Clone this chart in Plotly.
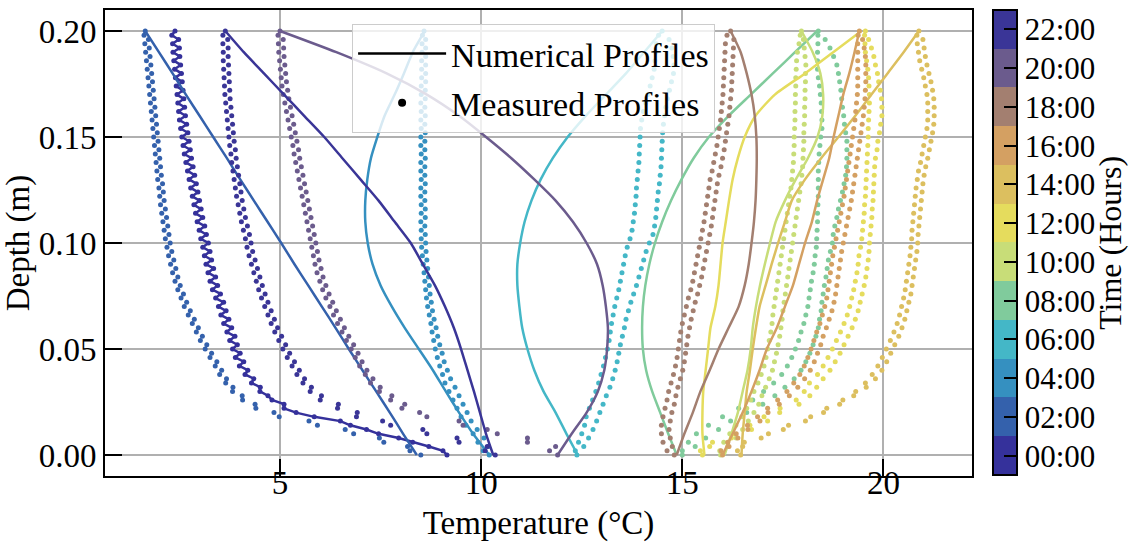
import plotly.graph_objects as go

# Sensor depths (m) of the measured profiles (2 mm spacing).
DEPTH_M = [0.000, 0.002, 0.004, 0.006, 0.008, 0.010, 0.012, 0.014, 0.016, 0.018, 0.020,
           0.022, 0.024, 0.026, 0.028, 0.030, 0.032, 0.034, 0.036, 0.038, 0.040,
           0.042, 0.044, 0.046, 0.048, 0.050, 0.052, 0.054, 0.056, 0.058, 0.060,
           0.062, 0.064, 0.066, 0.068, 0.070, 0.072, 0.074, 0.076, 0.078, 0.080,
           0.082, 0.084, 0.086, 0.088, 0.090, 0.092, 0.094, 0.096, 0.098, 0.100,
           0.102, 0.104, 0.106, 0.108, 0.110, 0.112, 0.114, 0.116, 0.118, 0.120,
           0.122, 0.124, 0.126, 0.128, 0.130, 0.132, 0.134, 0.136, 0.138, 0.140,
           0.142, 0.144, 0.146, 0.148, 0.150, 0.152, 0.154, 0.156, 0.158, 0.160,
           0.162, 0.164, 0.166, 0.168, 0.170, 0.172, 0.174, 0.176, 0.178, 0.180,
           0.182, 0.184, 0.186, 0.188, 0.190, 0.192, 0.194, 0.196, 0.198, 0.200]

# Output depths (m) of the numerical model.
NUM_DEPTH_M = [0.00, 0.01, 0.02, 0.03, 0.04, 0.05, 0.06, 0.07, 0.08, 0.09, 0.10,
               0.11, 0.12, 0.13, 0.14, 0.15, 0.16, 0.17, 0.18, 0.19, 0.20]

TIME_HOURS = [0, 2, 4, 6, 8, 10, 12, 14, 16, 18, 20, 22]
TIME_LABELS = ["00:00", "02:00", "04:00", "06:00", "08:00", "10:00",
               "12:00", "14:00", "16:00", "18:00", "20:00", "22:00"]
PROFILE_COLORS = ["#35319b", "#3461ac", "#3590c0", "#44b7c7", "#80cb9c", "#c8dd78",
                  "#e5dc5d", "#dcbf5f", "#d4a062", "#a37f70", "#6b5b8d", "#3a3597"]

TEMP_TICKS = [5, 10, 15, 20]
DEPTH_TICKS = [0.0, 0.05, 0.10, 0.15, 0.20]

# Measured temperatures (degC) at DEPTH_M
MEASURED_00 = [9.15, 9.05, 8.70, 8.30, 7.95, 7.45, 7.15, 6.75, 6.50, 5.85, 5.40,
               5.10, 5.10, 4.80, 4.70, 4.50, 4.51, 4.29, 4.35, 4.13, 4.20,
               3.99, 4.10, 3.89, 4.01, 3.82, 3.94, 3.75, 3.88, 3.68, 3.80,
               3.60, 3.73, 3.53, 3.66, 3.47, 3.60, 3.40, 3.52, 3.32, 3.45,
               3.26, 3.40, 3.21, 3.35, 3.16, 3.30, 3.12, 3.26, 3.08, 3.22,
               3.03, 3.17, 2.99, 3.13, 2.94, 3.08, 2.90, 3.04, 2.86, 3.00,
               2.82, 2.96, 2.78, 2.92, 2.74, 2.88, 2.70, 2.84, 2.66, 2.80,
               2.62, 2.77, 2.59, 2.74, 2.56, 2.71, 2.53, 2.68, 2.50, 2.65,
               2.48, 2.63, 2.46, 2.61, 2.44, 2.59, 2.42, 2.57, 2.40, 2.55,
               2.38, 2.53, 2.36, 2.51, 2.34, 2.50, 2.33, 2.48, 2.31, 2.39]
MEASURED_02 = [8.50, 8.23, 8.17, 7.58, 7.47, 6.83, 6.62, 5.93, 5.72, 4.98, 4.85,
               4.40, 4.38, 4.07, 4.06, 3.82, 3.83, 3.65, 3.67, 3.50, 3.55,
               3.39, 3.43, 3.26, 3.30, 3.14, 3.18, 3.02, 3.07, 2.92, 2.97,
               2.82, 2.87, 2.72, 2.77, 2.62, 2.68, 2.54, 2.60, 2.46, 2.52,
               2.39, 2.46, 2.33, 2.41, 2.28, 2.36, 2.23, 2.31, 2.19, 2.27,
               2.15, 2.24, 2.12, 2.21, 2.09, 2.18, 2.06, 2.15, 2.03, 2.12,
               2.01, 2.10, 1.99, 2.08, 1.96, 2.05, 1.94, 2.03, 1.92, 2.01,
               1.90, 1.99, 1.88, 1.97, 1.86, 1.95, 1.84, 1.93, 1.82, 1.91,
               1.80, 1.89, 1.78, 1.87, 1.76, 1.85, 1.74, 1.83, 1.72, 1.81,
               1.70, 1.79, 1.68, 1.77, 1.66, 1.75, 1.64, 1.73, 1.62, 1.65]
MEASURED_04 = [10.20, 10.05, 10.18, 9.92, 10.07, 9.80, 9.90, 9.62, 9.75, 9.50, 9.65,
               9.40, 9.55, 9.30, 9.45, 9.20, 9.35, 9.10, 9.24, 9.04, 9.16,
               8.97, 9.08, 8.91, 9.03, 8.86, 8.97, 8.82, 8.92, 8.78, 8.88,
               8.75, 8.83, 8.71, 8.79, 8.67, 8.76, 8.64, 8.73, 8.62, 8.71,
               8.60, 8.69, 8.58, 8.67, 8.56, 8.65, 8.54, 8.63, 8.52, 8.62,
               8.51, 8.61, 8.51, 8.60, 8.50, 8.61, 8.51, 8.61, 8.51, 8.60,
               8.50, 8.60, 8.50, 8.61, 8.51, 8.60, 8.50, 8.60, 8.50, 8.61,
               8.51, 8.60, 8.50, 8.60, 8.50, 8.61, 8.51, 8.60, 8.50, 8.61,
               8.51, 8.60, 8.50, 8.61, 8.51, 8.61, 8.51, 8.62, 8.52, 8.62,
               8.52, 8.62, 8.52, 8.62, 8.53, 8.62, 8.53, 8.62, 8.54, 8.58]
MEASURED_06 = [12.38, 12.34, 12.55, 12.42, 12.67, 12.50, 12.78, 12.57, 12.87, 12.61, 12.95,
               12.69, 13.03, 12.77, 13.11, 12.85, 13.20, 12.92, 13.27, 12.98, 13.33,
               13.04, 13.38, 13.09, 13.42, 13.14, 13.46, 13.18, 13.51, 13.21, 13.56,
               13.24, 13.60, 13.28, 13.66, 13.32, 13.72, 13.37, 13.79, 13.42, 13.86,
               13.46, 13.92, 13.50, 13.98, 13.54, 14.04, 13.58, 14.10, 13.63, 14.18,
               13.70, 14.27, 13.75, 14.31, 13.78, 14.34, 13.81, 14.36, 13.83, 14.38,
               13.85, 14.40, 13.86, 14.43, 13.88, 14.45, 13.90, 14.47, 13.92, 14.48,
               13.93, 14.49, 13.94, 14.50, 13.95, 14.51, 13.96, 14.53, 13.99, 14.56,
               14.03, 14.59, 14.09, 14.63, 14.14, 14.68, 14.20, 14.73, 14.25, 14.78,
               14.30, 14.79, 14.32, 14.77, 14.34, 14.74, 14.35, 14.67, 14.41, 14.50]
MEASURED_08 = [15.00, 15.00, 15.32, 15.15, 15.58, 15.35, 15.90, 15.65, 16.20, 16.00, 16.60,
               16.40, 17.00, 16.75, 17.30, 17.02, 17.55, 17.27, 17.78, 17.47, 17.95,
               17.61, 18.07, 17.72, 18.17, 17.81, 18.25, 17.89, 18.32, 17.95, 18.38,
               18.02, 18.41, 18.07, 18.45, 18.12, 18.47, 18.15, 18.50, 18.18, 18.53,
               18.21, 18.57, 18.25, 18.60, 18.28, 18.63, 18.30, 18.68, 18.33, 18.73,
               18.34, 18.75, 18.35, 18.79, 18.36, 18.84, 18.36, 18.88, 18.37, 18.93,
               18.38, 18.98, 18.38, 19.02, 18.38, 19.06, 18.38, 19.08, 18.39, 19.09,
               18.40, 19.09, 18.42, 19.09, 18.44, 19.06, 18.47, 19.03, 18.47, 19.01,
               18.46, 18.98, 18.45, 18.96, 18.43, 18.94, 18.41, 18.91, 18.38, 18.88,
               18.36, 18.84, 18.36, 18.76, 18.36, 18.67, 18.37, 18.55, 18.37, 18.38]
MEASURED_10 = [15.95, 15.93, 16.13, 16.03, 16.34, 16.18, 16.50, 16.33, 16.64, 16.48, 16.78,
               16.60, 16.90, 16.70, 16.98, 16.78, 17.07, 16.88, 17.16, 16.96, 17.24,
               17.03, 17.29, 17.08, 17.34, 17.12, 17.38, 17.16, 17.42, 17.20, 17.45,
               17.23, 17.48, 17.25, 17.50, 17.28, 17.53, 17.31, 17.56, 17.34, 17.59,
               17.37, 17.62, 17.40, 17.65, 17.43, 17.68, 17.46, 17.71, 17.49, 17.74,
               17.52, 17.77, 17.55, 17.80, 17.58, 17.83, 17.61, 17.86, 17.64, 17.89,
               17.67, 17.92, 17.70, 17.95, 17.72, 17.97, 17.74, 17.99, 17.76, 18.00,
               17.77, 18.01, 17.78, 18.02, 17.78, 18.02, 17.79, 18.03, 17.80, 18.04,
               17.80, 18.04, 17.81, 18.05, 17.81, 18.05, 17.82, 18.06, 17.82, 18.06,
               17.83, 18.07, 17.84, 18.05, 17.86, 18.03, 17.90, 18.01, 17.93, 17.96]
MEASURED_12 = [15.50, 15.45, 15.68, 15.75, 16.22, 16.28, 16.72, 16.68, 17.12, 17.03, 17.42,
               17.43, 17.90, 17.83, 18.17, 18.03, 18.34, 18.16, 18.50, 18.36, 18.67,
               18.50, 18.80, 18.62, 18.92, 18.73, 19.02, 18.83, 19.12, 18.93, 19.22,
               19.02, 19.30, 19.10, 19.37, 19.16, 19.42, 19.21, 19.47, 19.26, 19.52,
               19.30, 19.56, 19.34, 19.59, 19.37, 19.62, 19.39, 19.64, 19.43, 19.65,
               19.46, 19.67, 19.48, 19.69, 19.50, 19.71, 19.52, 19.72, 19.53, 19.74,
               19.55, 19.75, 19.56, 19.76, 19.57, 19.77, 19.58, 19.78, 19.59, 19.80,
               19.60, 19.84, 19.61, 19.86, 19.62, 19.90, 19.62, 19.93, 19.63, 19.96,
               19.64, 19.96, 19.65, 19.95, 19.65, 19.92, 19.64, 19.88, 19.63, 19.85,
               19.61, 19.80, 19.58, 19.76, 19.55, 19.70, 19.54, 19.63, 19.53, 19.55]
MEASURED_14 = [16.45, 16.37, 16.50, 16.54, 16.96, 17.14, 17.51, 17.64, 18.06, 18.19, 18.51,
               18.59, 18.91, 18.99, 19.26, 19.31, 19.57, 19.55, 19.80, 19.72, 19.96,
               19.86, 20.08, 19.97, 20.18, 20.07, 20.28, 20.17, 20.38, 20.26, 20.46,
               20.34, 20.53, 20.40, 20.58, 20.45, 20.63, 20.50, 20.68, 20.54, 20.71,
               20.57, 20.74, 20.60, 20.77, 20.63, 20.80, 20.66, 20.83, 20.68, 20.85,
               20.70, 20.86, 20.71, 20.88, 20.73, 20.90, 20.75, 20.92, 20.77, 20.94,
               20.79, 20.96, 20.81, 20.98, 20.84, 21.01, 20.87, 21.05, 20.92, 21.10,
               20.96, 21.14, 21.00, 21.18, 21.04, 21.22, 21.08, 21.25, 21.10, 21.26,
               21.10, 21.26, 21.10, 21.25, 21.08, 21.22, 21.04, 21.18, 21.00, 21.13,
               20.95, 21.08, 20.90, 21.04, 20.87, 21.01, 20.84, 20.98, 20.83, 20.88]
MEASURED_16 = [16.00, 15.96, 16.16, 16.13, 16.38, 16.34, 16.63, 16.62, 16.93, 16.87, 17.13,
               17.12, 17.41, 17.37, 17.66, 17.60, 17.87, 17.77, 18.04, 17.92, 18.18,
               18.03, 18.28, 18.12, 18.36, 18.20, 18.44, 18.27, 18.50, 18.34, 18.58,
               18.42, 18.65, 18.48, 18.72, 18.54, 18.77, 18.59, 18.81, 18.62, 18.84,
               18.65, 18.87, 18.68, 18.90, 18.71, 18.93, 18.74, 18.96, 18.78, 19.00,
               18.82, 19.04, 18.86, 19.08, 18.90, 19.12, 18.94, 19.16, 18.98, 19.20,
               19.02, 19.23, 19.05, 19.26, 19.08, 19.29, 19.11, 19.32, 19.14, 19.35,
               19.17, 19.38, 19.20, 19.41, 19.23, 19.44, 19.26, 19.47, 19.29, 19.50,
               19.31, 19.52, 19.33, 19.54, 19.35, 19.55, 19.36, 19.56, 19.36, 19.56,
               19.36, 19.56, 19.36, 19.55, 19.36, 19.52, 19.36, 19.48, 19.37, 19.40]
MEASURED_18 = [14.80, 14.62, 14.75, 14.52, 14.70, 14.48, 14.67, 14.48, 14.70, 14.52, 14.74,
               14.57, 14.80, 14.62, 14.84, 14.66, 14.89, 14.72, 14.95, 14.78, 15.01,
               14.83, 15.05, 14.87, 15.08, 14.90, 15.11, 14.93, 15.14, 14.96, 15.18,
               15.00, 15.22, 15.05, 15.27, 15.10, 15.32, 15.15, 15.38, 15.21, 15.43,
               15.26, 15.48, 15.30, 15.52, 15.34, 15.56, 15.38, 15.60, 15.42, 15.64,
               15.46, 15.68, 15.50, 15.72, 15.54, 15.75, 15.57, 15.78, 15.60, 15.81,
               15.63, 15.84, 15.66, 15.87, 15.69, 15.91, 15.74, 15.96, 15.78, 16.00,
               15.82, 16.04, 15.86, 16.07, 15.89, 16.10, 15.92, 16.13, 15.95, 16.16,
               15.97, 16.18, 15.99, 16.20, 16.01, 16.22, 16.02, 16.23, 16.03, 16.24,
               16.04, 16.25, 16.05, 16.26, 16.06, 16.27, 16.07, 16.28, 16.11, 16.20]
MEASURED_20 = [11.90, 11.70, 11.85, 11.15, 11.15, 10.40, 10.15, 9.55, 9.45, 8.65, 8.47,
               8.03, 8.10, 7.75, 7.78, 7.47, 7.49, 7.25, 7.31, 7.12, 7.16,
               6.98, 7.04, 6.87, 6.94, 6.77, 6.83, 6.65, 6.71, 6.54, 6.60,
               6.43, 6.50, 6.33, 6.40, 6.24, 6.31, 6.14, 6.22, 6.06, 6.14,
               5.99, 6.07, 5.92, 6.02, 5.87, 5.97, 5.83, 5.93, 5.79, 5.89,
               5.75, 5.85, 5.71, 5.81, 5.67, 5.77, 5.63, 5.73, 5.59, 5.69,
               5.55, 5.65, 5.51, 5.61, 5.47, 5.57, 5.43, 5.53, 5.39, 5.49,
               5.35, 5.46, 5.32, 5.42, 5.28, 5.38, 5.24, 5.34, 5.20, 5.30,
               5.16, 5.26, 5.12, 5.22, 5.08, 5.19, 5.05, 5.16, 5.03, 5.14,
               5.01, 5.12, 4.99, 5.10, 4.97, 5.09, 4.96, 5.08, 4.95, 5.00]
MEASURED_22 = [10.35, 10.10, 10.15, 9.45, 9.40, 8.65, 8.55, 7.75, 7.55, 6.90, 6.92,
               6.43, 6.45, 6.00, 6.03, 5.75, 5.78, 5.57, 5.61, 5.42, 5.48,
               5.30, 5.36, 5.18, 5.24, 5.07, 5.14, 4.97, 5.04, 4.87, 4.94,
               4.78, 4.86, 4.70, 4.78, 4.62, 4.70, 4.54, 4.63, 4.47, 4.56,
               4.41, 4.50, 4.35, 4.44, 4.29, 4.38, 4.23, 4.32, 4.18, 4.28,
               4.14, 4.24, 4.09, 4.19, 4.04, 4.14, 4.00, 4.10, 3.96, 4.06,
               3.92, 4.03, 3.89, 4.00, 3.86, 3.97, 3.83, 3.94, 3.80, 3.91,
               3.78, 3.89, 3.75, 3.86, 3.73, 3.84, 3.71, 3.82, 3.69, 3.80,
               3.67, 3.78, 3.65, 3.76, 3.63, 3.75, 3.62, 3.74, 3.61, 3.73,
               3.60, 3.72, 3.59, 3.71, 3.59, 3.71, 3.58, 3.70, 3.58, 3.64]

# Simulated temperatures (degC) at NUM_DEPTH_M; the 00:00 run starts from the measured profile.
NUMERICAL_02 = [8.40, 8.06, 7.73, 7.39, 7.05, 6.71, 6.38, 6.04, 5.70, 5.36, 5.03,
                4.69, 4.35, 4.01, 3.68, 3.34, 3.00, 2.66, 2.33, 1.99, 1.65]
NUMERICAL_04 = [10.20, 9.80, 9.45, 9.12, 8.80, 8.45, 8.10, 7.78, 7.50, 7.30, 7.18,
                7.12, 7.12, 7.17, 7.26, 7.42, 7.60, 7.85, 8.08, 8.30, 8.60]
NUMERICAL_06 = [12.40, 12.12, 11.85, 11.55, 11.32, 11.15, 11.02, 10.95, 10.90, 10.90, 10.97,
                11.08, 11.25, 11.48, 11.78, 12.15, 12.60, 13.10, 13.60, 14.05, 14.50]
NUMERICAL_08 = [14.86, 14.65, 14.45, 14.25, 14.10, 14.02, 14.00, 14.02, 14.08, 14.18, 14.32,
                14.50, 14.72, 14.98, 15.28, 15.66, 16.15, 16.70, 17.25, 17.80, 18.35]
NUMERICAL_10 = [16.05, 16.22, 16.38, 16.50, 16.62, 16.70, 16.75, 16.83, 16.93, 17.05, 17.18,
                17.32, 17.55, 17.82, 18.12, 18.36, 18.48, 18.50, 18.43, 18.24, 17.96]
NUMERICAL_12 = [15.55, 15.50, 15.50, 15.52, 15.58, 15.64, 15.70, 15.82, 15.90, 15.95, 16.00,
                16.08, 16.16, 16.25, 16.38, 16.55, 16.82, 17.30, 18.05, 18.75, 19.45]
NUMERICAL_14 = [16.47, 16.50, 16.55, 16.60, 16.68, 16.75, 16.83, 16.92, 17.07, 17.22, 17.38,
                17.55, 17.72, 18.05, 18.45, 18.88, 19.30, 19.70, 20.10, 20.50, 20.88]
NUMERICAL_16 = [16.00, 16.25, 16.50, 16.72, 16.92, 17.10, 17.35, 17.55, 17.75, 17.90, 18.05,
                18.22, 18.35, 18.50, 18.65, 18.76, 18.88, 19.00, 19.15, 19.28, 19.40]
NUMERICAL_18 = [14.86, 15.05, 15.26, 15.45, 15.68, 15.90, 16.15, 16.40, 16.55, 16.65, 16.72,
                16.78, 16.82, 16.84, 16.85, 16.84, 16.80, 16.72, 16.60, 16.45, 16.20]
NUMERICAL_20 = [11.90, 12.25, 12.62, 12.90, 13.06, 13.13, 13.15, 13.10, 13.02, 12.88, 12.62,
                12.28, 11.85, 11.32, 10.75, 10.12, 9.45, 8.65, 7.65, 6.40, 5.00]
NUMERICAL_22 = [10.30, 10.12, 9.97, 9.82, 9.66, 9.50, 9.32, 9.10, 8.85, 8.55, 8.25,
                7.85, 7.45, 7.00, 6.55, 6.10, 5.60, 5.10, 4.60, 4.10, 3.64]

MEASURED = {0: MEASURED_00, 2: MEASURED_02, 4: MEASURED_04, 6: MEASURED_06,
            8: MEASURED_08, 10: MEASURED_10, 12: MEASURED_12, 14: MEASURED_14,
            16: MEASURED_16, 18: MEASURED_18, 20: MEASURED_20, 22: MEASURED_22}
NUMERICAL = {0: (DEPTH_M, MEASURED_00), 2: (NUM_DEPTH_M, NUMERICAL_02),
             4: (NUM_DEPTH_M, NUMERICAL_04), 6: (NUM_DEPTH_M, NUMERICAL_06),
             8: (NUM_DEPTH_M, NUMERICAL_08), 10: (NUM_DEPTH_M, NUMERICAL_10),
             12: (NUM_DEPTH_M, NUMERICAL_12), 14: (NUM_DEPTH_M, NUMERICAL_14),
             16: (NUM_DEPTH_M, NUMERICAL_16), 18: (NUM_DEPTH_M, NUMERICAL_18),
             20: (NUM_DEPTH_M, NUMERICAL_20), 22: (NUM_DEPTH_M, NUMERICAL_22)}

for hour, temps in MEASURED.items():
    assert len(temps) == len(DEPTH_M), hour

FONT = "Liberation Serif, Times New Roman, serif"

fig = go.Figure()

for hour, color in zip(TIME_HOURS, PROFILE_COLORS):
    fig.add_trace(go.Scatter(
        x=MEASURED[hour], y=DEPTH_M, mode="markers",
        marker=dict(size=5, color=color, line=dict(width=0)),
        showlegend=False, hoverinfo="skip"))
    depths, temps = NUMERICAL[hour]
    shape = "linear" if depths is DEPTH_M else "spline"
    fig.add_trace(go.Scatter(
        x=temps, y=depths, mode="lines",
        line=dict(color=color, width=2.5, shape=shape, smoothing=0.6),
        showlegend=False, hoverinfo="skip"))

# Legend keys (placed on the label axis so that axis is rendered)
fig.add_trace(go.Scatter(x=[None], y=[None], mode="lines", name="Numerical Profiles",
                         line=dict(color="black", width=2.5), legendgroup="num",
                         xaxis="x2"))
fig.add_trace(go.Scatter(x=[None], y=[None], mode="markers", name="Measured Profiles",
                         marker=dict(color="black", size=8), legendgroup="meas",
                         xaxis="x2"))

# Discrete two-hour colour bar
n_bins = len(PROFILE_COLORS)
colorscale = []
for k, c in enumerate(PROFILE_COLORS):
    colorscale.append([k / n_bins, c])
    colorscale.append([(k + 1) / n_bins, c])

fig.add_trace(go.Scatter(
    x=[None] * n_bins, y=[None] * n_bins, mode="markers", showlegend=False,
    marker=dict(color=TIME_HOURS, colorscale=colorscale, cmin=-1, cmax=23,
                showscale=True,
                colorbar=dict(
                    x=1.0242, xanchor="left", y=0.501, yanchor="middle",
                    lenmode="pixels", len=465, thicknessmode="pixels", thickness=24,
                    outlinewidth=2, outlinecolor="black",
                    tickmode="array", tickvals=TIME_HOURS, ticktext=TIME_LABELS,
                    ticks="inside", ticklen=14, tickwidth=2, tickcolor="black",
                    tickfont=dict(family=FONT, size=31, color="black"),
                    xpad=0, ypad=0))))

axis_common = dict(
    ticks="inside", ticklen=17, tickwidth=2, tickcolor="black",
    showline=True, linewidth=2, linecolor="black", mirror=True,
    showgrid=True, gridcolor="#b0b0b0", gridwidth=1.5, zeroline=False,
    tickfont=dict(family=FONT, size=33, color="black"), automargin=False)

fig.update_layout(
    width=1131, height=544,
    margin=dict(l=105, r=159, t=10, b=68),
    paper_bgcolor="white", plot_bgcolor="white",
    font=dict(family=FONT, size=33, color="black"),
    xaxis=dict(range=[0.65, 22.2], tickmode="array", tickvals=TEMP_TICKS,
               showticklabels=False,
               title=dict(text="Temperature (°C)", standoff=34,
                          font=dict(family=FONT, size=33)),
               **axis_common),
    # tick labels of the temperature axis, set close under the frame
    xaxis2=dict(matches="x", overlaying="x", anchor="free", position=0.034,
                side="bottom", tickmode="array", tickvals=TEMP_TICKS,
                ticks="", showline=False, showgrid=False, zeroline=False,
                tickfont=dict(family=FONT, size=33, color="black"),
                automargin=False),
    yaxis=dict(range=[-0.0099, 0.2099], tickmode="array",
               tickvals=DEPTH_TICKS, tickformat=".2f",
               title=dict(text="Depth (m)", standoff=6,
                          font=dict(family=FONT, size=33)),
               **axis_common),
    legend=dict(x=0.285, y=0.970, xanchor="left", yanchor="top",
                bgcolor="rgba(255,255,255,0.8)", bordercolor="#cccccc", borderwidth=1,
                font=dict(family=FONT, size=34, color="black"),
                tracegroupgap=2, itemwidth=88),
    annotations=[dict(text="Time (Hours)", xref="paper", yref="paper",
                      x=1.159, y=0.5, xanchor="center", yanchor="middle",
                      textangle=-90, showarrow=False,
                      font=dict(family=FONT, size=32, color="black"))],
)

fig.write_html("out.html")
